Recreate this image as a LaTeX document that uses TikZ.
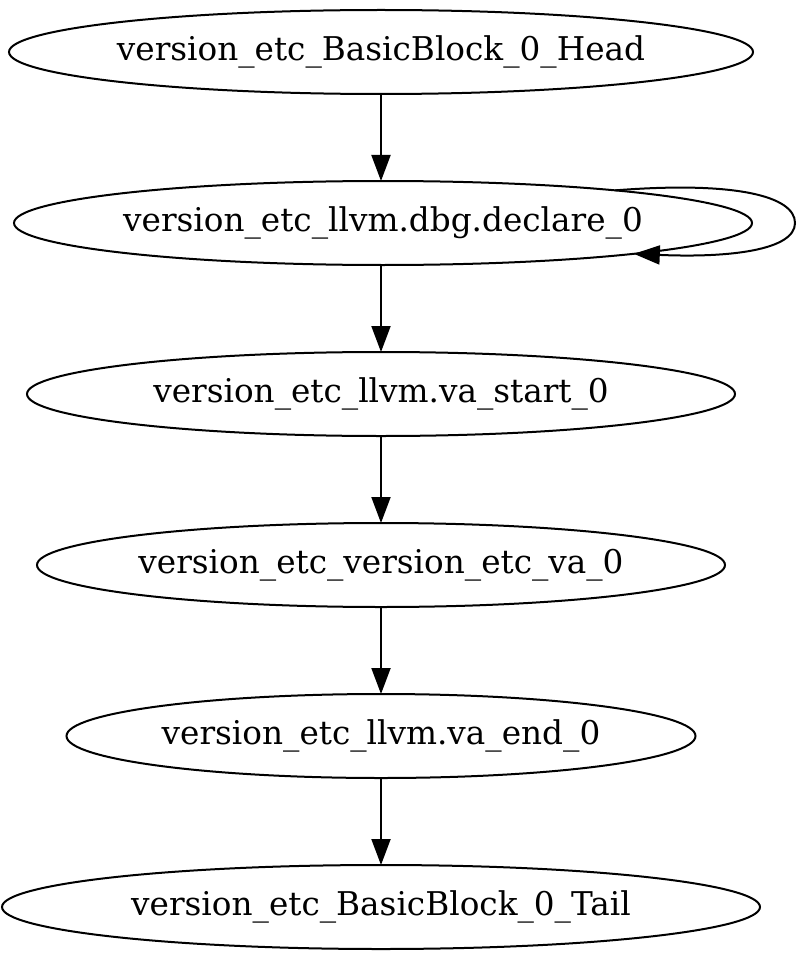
\documentclass[tikz,border=0pt]{standalone}
\usepackage{fontspec}
\setmainfont{DejaVu Serif}
\usetikzlibrary{shapes.geometric,arrows.meta}
\begin{document}
\begin{tikzpicture}[x=1pt,y=-1pt,
  bb/.style={ellipse,draw,line width=2pt,inner sep=0pt,outer sep=0pt,minimum height=84pt,
    font=\fontsize{32.7}{36}\selectfont},
  edge/.style={line width=2pt,-{Triangle[length=26pt,width=19pt]}}]
\useasboundingbox (0,0) rectangle (805,960);
\node[bb,minimum width=744pt] (head) at (381,52) {\makebox[0pt]{version\_etc\_BasicBlock\_0\_Head}};
\node[bb,minimum width=738pt] (decl) at (383,223) {\makebox[0pt]{version\_etc\_llvm.dbg.declare\_0}};
\node[bb,minimum width=708pt] (vast) at (381,394) {\makebox[0pt]{version\_etc\_llvm.va\_start\_0}};
\node[bb,minimum width=688pt] (veva) at (381,565) {\makebox[0pt]{version\_etc\_version\_etc\_va\_0}};
\node[bb,minimum width=629pt] (vaend) at (381,736) {\makebox[0pt]{version\_etc\_llvm.va\_end\_0}};
\node[bb,minimum width=758pt] (tail) at (381,907) {\makebox[0pt]{version\_etc\_BasicBlock\_0\_Tail}};
\coordinate (dtop) at (decl.north -| head.south);
\draw[edge] (head.south) -- (dtop);
\draw[edge] (decl.south -| vast.north) -- (vast.north);
\draw[edge] (vast.south) -- (veva.north);
\draw[edge] (veva.south) -- (vaend.north);
\draw[edge] (vaend.south) -- (tail.north);
\draw[edge] (decl.8.2) .. controls (735,181) and (795,196) .. (795,223)
   .. controls (795,250) and (730,258) .. (decl.-7.3);
\end{tikzpicture}
\end{document}
